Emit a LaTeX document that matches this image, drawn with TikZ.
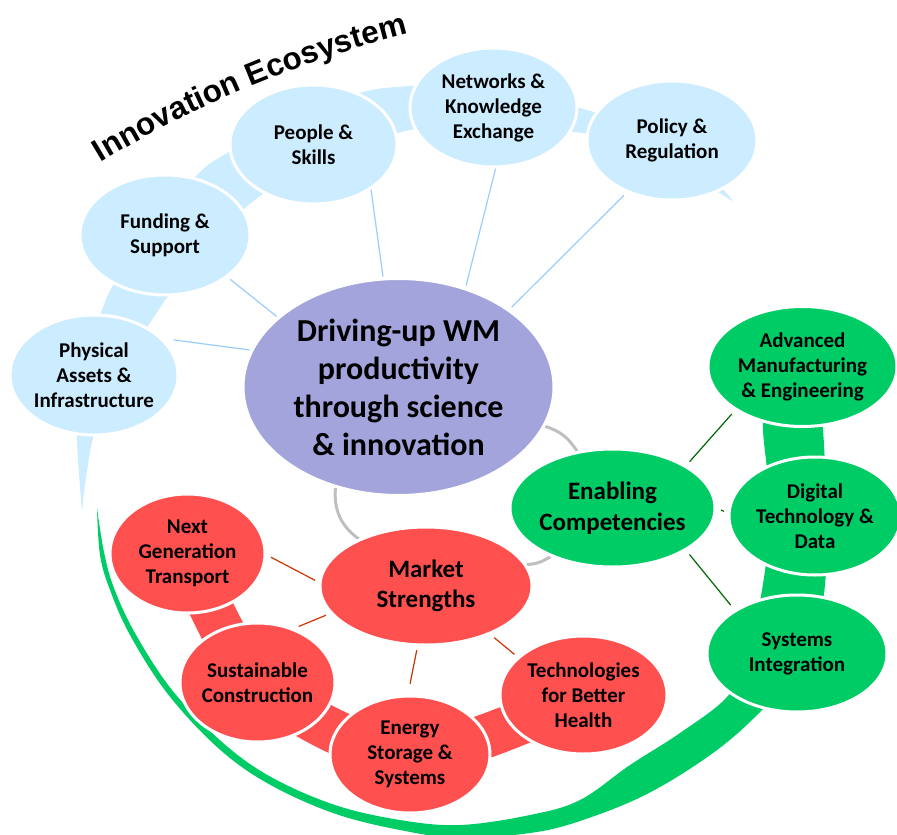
\documentclass[tikz,border=0pt]{standalone}
\usepackage{fontspec}
\setmainfont{Carlito}
\newfontfamily\ttlfam{Liberation Sans}
\usetikzlibrary{shapes.geometric,decorations.text}
\definecolor{cblue}{HTML}{CCECFF}
\definecolor{cpurple}{HTML}{A4A4DC}
\definecolor{cgreen}{HTML}{00CC66}
\definecolor{cred}{HTML}{FF5050}
\definecolor{lblue}{HTML}{99CCFF}
\definecolor{lgreen}{HTML}{006600}
\definecolor{lred}{HTML}{CC3300}
\definecolor{lgray}{HTML}{BFBFBF}
\newcommand\smallfont{\bfseries\fontsize{21pt}{25pt}\selectfont}
\newcommand\midfont{\bfseries\fontsize{25pt}{30.5pt}\selectfont}
\newcommand\bigfont{\bfseries\fontsize{32pt}{38pt}\selectfont}
\newcommand\titlefont{\ttlfam\bfseries\fontsize{31.5pt}{34pt}\selectfont}
\pgfdeclarelayer{bg}
\pgfsetlayers{bg,main}
\begin{document}
\begin{tikzpicture}[x=1pt,y=-1pt,
  bub/.style={ellipse, draw=white, line width=3pt, inner sep=-25pt, align=center, text=black},
  bluebub/.style={bub, fill=cblue, font=\smallfont},
  purplebub/.style={bub, fill=cpurple, font=\bigfont},
  greenbub/.style={bub, fill=cgreen, font=\smallfont},
  redbub/.style={bub, fill=cred, font=\smallfont},
  bline/.style={draw=lblue, line width=1.2pt},
  gline/.style={draw=lgreen, line width=1.2pt},
  rline/.style={draw=lred, line width=1.2pt},
  grayarc/.style={draw=lgray, line width=3pt}]
\useasboundingbox (0,0) rectangle (897,835);

% title along an arc
\coordinate (tc) at (687,1132);
\path[decorate, decoration={text along path, text align=center,
   text={|\titlefont|Innovation Ecosystem}}]
   (tc) ++(-121.6:1133) arc[start angle=-121.6, end angle=-103.8, radius=1133];

% nodes
\node[bluebub, minimum width=168pt, minimum height=120pt] (phys) at (94,375) {Physical\\Assets \&\\Infrastructure};
\node[bluebub, minimum width=170pt, minimum height=120pt] (fund) at (165,235) {Funding \&\\Support};
\node[bluebub, minimum width=167pt, minimum height=119pt] (ppl) at (313.5,144.5) {People \&\\Skills};
\node[bluebub, minimum width=167pt, minimum height=119pt] (net) at (493.5,107.5) {Networks \&\\Knowledge\\Exchange};
\node[bluebub, minimum width=170pt, minimum height=119pt] (pol) at (672,140.5) {Policy \&\\Regulation};
\node[purplebub, minimum width=311pt, minimum height=217pt] (cen) at (398.5,387) {Driving-up WM\\productivity\\through science\\\& innovation};
\node[greenbub, minimum width=189pt, minimum height=120pt] (adv) at (802.5,366.5) {Advanced\\Manufacturing\\\& Engineering};
\node[greenbub, font=\midfont, minimum width=205pt, minimum height=118pt] (en) at (612.5,508) {Enabling\\Competencies};
\node[greenbub, minimum width=172pt, minimum height=118pt] (dig) at (815,516) {Digital\\Technology \&\\Data};
\node[greenbub, minimum width=180pt, minimum height=117pt] (sys) at (797,653.5) {Systems\\Integration};
\node[redbub, font=\midfont, minimum width=212pt, minimum height=118pt] (ms) at (426,586) {Market\\Strengths};
\node[redbub, minimum width=155pt, minimum height=119pt] (ng) at (187.5,553.5) {Next\\Generation\\Transport};
\node[redbub, minimum width=155pt, minimum height=119pt] (sc) at (257.5,682.5) {Sustainable\\Construction};
\node[redbub, minimum width=160pt, minimum height=117pt] (es) at (410,754.5) {Energy\\Storage \&\\Systems};
\node[redbub, minimum width=167pt, minimum height=118pt] (tb) at (583.5,695) {Technologies\\for Better\\Health};

\begin{pgfonlayer}{bg}
% blue tapered band
\fill[cblue] plot[smooth, tension=0.6] coordinates {(82,511) (77,440) (79,395) (90,340) (102,310) (112,287) (140,240) (197,175) (227,153) (290,115) (363,92) (410,86) (490,82) (580,108) (650,130) (700,165) (733,201)}
  -- plot[smooth, tension=0.6] coordinates {(733,201) (718,192) (660,152) (583,133) (490,128) (410,130) (330,160) (260,196) (200,255) (150,323) (115,390) (93,438) (82,511)} -- cycle;
% green tapered band
\fill[cgreen] plot[smooth, tension=0.6] coordinates {(97,508) (100,555) (110,590) (130,635) (167,693) (217,747) (267,783) (333,813) (400,830) (460,838) (530,833) (580,821) (647,794) (713,753) (760,712) (800,665) (823,600) (826,520) (823,430) (815,390)}
  -- plot[smooth, tension=0.6] coordinates {(765,390) (763,430) (770,510) (762,590) (745,660) (727,697) (680,733) (630,765) (580,800) (530,815) (460,825) (400,820) (335,805) (271,777) (222,742) (172,690) (135,633) (114,588) (104,552) (97,508)} -- cycle;
% red band
\draw[cred, line width=44pt] plot[smooth, tension=0.5] coordinates {(ng.center) (sc.center) (es.center) (tb.center)};

% blue connectors
\draw[bline, shorten <=1pt, shorten >=11pt] (cen.166.7) -- (phys.28);
\draw[bline, shorten <=1pt, shorten >=3pt] (cen.150.3) -- (fund.-34);
\draw[bline, shorten <=1pt] (cen.98.4) -- (ppl.-38);
\draw[bline, shorten <=2pt] (cen.56.2) -- (net.-88);
\draw[bline, shorten <=3pt, shorten >=4pt] (cen.35.7) -- (pol.229.8);
% green connectors
\draw[gline, shorten <=5pt, shorten >=5pt] (en.30.8) -- (adv.213.8);
\draw[gline, shorten <=5pt, shorten >=4pt] (en.0) -- (dig.178);
\draw[gline, shorten <=5pt, shorten >=6pt] (en.-30.8) -- (sys.145.8);
% red connectors
\draw[rline, shorten <=4pt, shorten >=5pt] (ms.178.4) -- (ng.-1);
\draw[rline, shorten <=4.6pt, shorten >=5pt] (ms.196.5) -- (sc.56.9);
\draw[rline, shorten <=4pt, shorten >=11pt] (ms.262.8) -- (es.92.5);
\draw[rline, shorten <=5pt, shorten >=4pt] (ms.-37.7) -- (tb.150.3);
% gray cycle arcs
\draw[grayarc] (cen.238.9) to[bend right=30] (ms.145.4);
\draw[grayarc] (cen.-15.2) to[bend left=20] (en.122.4);
\draw[grayarc] (ms.12) to[bend right=15] (en.218.7);
\end{pgfonlayer}
\end{tikzpicture}
\end{document}
